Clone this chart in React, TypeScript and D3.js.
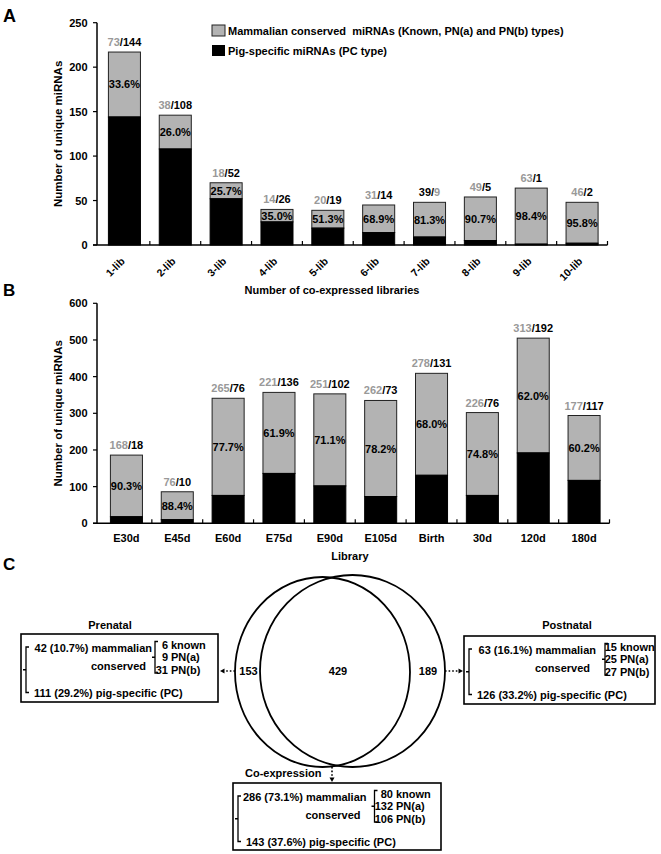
import * as d3 from "d3";

// ---- Panel A: number of co-expressed libraries ----
const libsA = ["1-lib", "2-lib", "3-lib", "4-lib", "5-lib", "6-lib", "7-lib", "8-lib", "9-lib", "10-lib"];
const conservedA = [73, 38, 18, 14, 20, 31, 39, 49, 63, 46];
const pigA = [144, 108, 52, 26, 19, 14, 9, 5, 1, 2];
const yTicksA = [0, 50, 100, 150, 200, 250];
// the original figure prints this label with its colours swapped
const swappedA = ["7-lib"];

// ---- Panel B: per library ----
const libsB = ["E30d", "E45d", "E60d", "E75d", "E90d", "E105d", "Birth", "30d", "120d", "180d"];
const conservedB = [168, 76, 265, 221, 251, 262, 278, 226, 313, 177];
const pigB = [18, 10, 76, 136, 102, 73, 131, 76, 192, 117];
const yTicksB = [0, 100, 200, 300, 400, 500, 600];

// ---- Panel C: Venn + summary boxes (Prenatal, Co-expression, Postnatal) ----
const vennCounts = [153, 429, 189];
const groupNames = ["Prenatal", "Co-expression", "Postnatal"];
const conservedC = [42, 286, 63];
const conservedPctC = ["10.7%", "73.1%", "16.1%"];
const pigC = [111, 143, 126];
const pigPctC = ["29.2%", "37.6%", "33.2%"];
const knownC = [6, 80, 15];
const pnaC = [9, 132, 25];
const pnbC = [31, 106, 27];

const FONT = "'Liberation Sans', Arial, Helvetica, sans-serif";
const BAR_GRAY = "#b3b3b3";
const TEXT_GRAY = "#999999";
const AXIS_X = 97;

type BarsProps = {
  cats: string[];
  conserved: number[];
  pig: number[];
  yTicks: number[];
  range: [number, number];
  yRange: [number, number];
  rotate: boolean;
  swapped?: string[];
};

const StackedBars = ({ cats, conserved, pig, yTicks, range, yRange, rotate, swapped = [] }: BarsProps) => {
  const x = d3.scaleBand<string>().domain(cats).range(range).paddingInner(0.37).paddingOuter(0.185);
  const y = d3.scaleLinear().domain([0, d3.max(yTicks) as number]).range(yRange);
  const step = x.step();
  const bw = x.bandwidth();
  const fmt = d3.format(".1f");
  const y0 = y(0);

  return (
    <g>
      {cats.map((c, i) => {
        const total = conserved[i] + pig[i];
        const bx = x(c) || 0;
        const cx = bx + bw / 2;
        const yTop = y(total);
        const yPig = y(pig[i]);
        const swap = swapped.includes(c);
        return (
          <g key={c}>
            <rect x={bx} y={yTop} width={bw} height={yPig - yTop} fill={BAR_GRAY} stroke="#222" strokeWidth={1} />
            <rect x={bx} y={yPig} width={bw} height={y0 - yPig} fill="#000" stroke="#000" strokeWidth={1} />
            <text x={cx} y={(yTop + yPig) / 2} textAnchor="middle" dominantBaseline="central" fontSize={11}>
              {fmt((conserved[i] / total) * 100)}%
            </text>
            <text x={cx} y={yTop - 6} textAnchor="middle" fontSize={11}>
              {swap ? (
                <>
                  <tspan fill="#000">{conserved[i]}/</tspan>
                  <tspan fill={TEXT_GRAY}>{pig[i]}</tspan>
                </>
              ) : (
                <>
                  <tspan fill={TEXT_GRAY}>{conserved[i]}</tspan>
                  <tspan fill="#000">/{pig[i]}</tspan>
                </>
              )}
            </text>
            {rotate ? (
              <text
                transform={`translate(${cx + 1},${y0 + 17}) rotate(-45)`}
                textAnchor="end"
                fontSize={10.5}
              >
                {c}
              </text>
            ) : (
              <text x={cx} y={y0 + 19} textAnchor="middle" fontSize={11}>
                {c}
              </text>
            )}
          </g>
        );
      })}

      {/* y axis */}
      <line x1={AXIS_X} x2={AXIS_X} y1={y0} y2={yRange[1]} stroke="#000" strokeWidth={1.5} />
      {yTicks.map((t) => (
        <g key={t}>
          <line x1={AXIS_X - 4} x2={AXIS_X} y1={y(t)} y2={y(t)} stroke="#000" strokeWidth={1.2} />
          <text x={87.5} y={y(t)} textAnchor="end" dominantBaseline="central" fontSize={11}>
            {t}
          </text>
        </g>
      ))}

      {/* x axis with small inward ticks between categories */}
      <line x1={AXIS_X - 4} x2={range[1]} y1={y0} y2={y0} stroke="#000" strokeWidth={1.5} />
      {d3.range(1, cats.length + 1).map((i) => (
        <line
          key={i}
          x1={range[0] + i * step}
          x2={range[0] + i * step}
          y1={y0}
          y2={y0 - 4}
          stroke="#000"
          strokeWidth={1.2}
        />
      ))}

      <text
        transform={`translate(58,${(yRange[0] + yRange[1]) / 2}) rotate(-90)`}
        textAnchor="middle"
        dominantBaseline="central"
        fontSize={11.5}
      >
        Number of unique miRNAs
      </text>
    </g>
  );
};

// curly-ish bracket: vertical stroke, ticks to the right at the ends, tick to the left in the middle
const Bracket = ({ x, y1, y2 }: { x: number; y1: number; y2: number }) => {
  const m = (y1 + y2) / 2;
  return (
    <path
      d={`M${x + 3},${y1} H${x} V${y2} H${x + 3} M${x},${m} H${x - 3}`}
      fill="none"
      stroke="#000"
      strokeWidth={1.3}
    />
  );
};

const boxLayout = [
  { x: 21, y: 634, w: 197, h: 68, tx: 110, ty: 625, anchor: "middle", mamEnd: 131, brX: 134, numRight: 147 },
  { x: 233, y: 783, w: 208, h: 67, tx: 245, ty: 773, anchor: "start", mamEnd: 133.5, brX: 141.5, numRight: 160 },
  { x: 464, y: 636, w: 191, h: 68, tx: 567, ty: 625, anchor: "middle", mamEnd: 132, brX: 141, numRight: 153 },
];

const InfoBox = ({ i }: { i: number }) => {
  const L = boxLayout[i];
  const subs: [number, string][] = [
    [knownC[i], "known"],
    [pnaC[i], "PN(a)"],
    [pnbC[i], "PN(b)"],
  ];
  const subY = [10.5, 23, 35.5];
  return (
    <g>
      <text x={L.tx} y={L.ty} textAnchor={L.anchor as any} dominantBaseline="central" fontSize={11}>
        {groupNames[i]}
      </text>
      <rect x={L.x} y={L.y} width={L.w} height={L.h} fill="#fff" stroke="#000" strokeWidth={1.6} />
      <g transform={`translate(${L.x},${L.y})`} fontSize={11}>
        <Bracket x={5} y1={13} y2={58.5} />
        <text x={L.mamEnd} y={13.5} textAnchor="end" dominantBaseline="central">
          {conservedC[i]} ({conservedPctC[i]}) mammalian
        </text>
        <text x={L.mamEnd - 6} y={32} textAnchor="end" dominantBaseline="central">
          conserved
        </text>
        <Bracket x={L.brX} y1={7.5} y2={39} />
        {subs.map(([n, label], k) => (
          <g key={label}>
            <text x={L.numRight} y={subY[k]} textAnchor="end" dominantBaseline="central">
              {n}
            </text>
            <text x={L.numRight + 3} y={subY[k]} dominantBaseline="central">
              {label}
            </text>
          </g>
        ))}
        <text x={13} y={58.5} dominantBaseline="central">
          {pigC[i]} ({pigPctC[i]}) pig-specific (PC)
        </text>
      </g>
    </g>
  );
};

const DottedArrow = ({ x1, y1, x2, y2 }: { x1: number; y1: number; x2: number; y2: number }) => {
  const a = Math.atan2(y2 - y1, x2 - x1);
  const len = 4.5;
  const wid = 2.5;
  const bx = x2 - len * Math.cos(a);
  const by = y2 - len * Math.sin(a);
  const px = -Math.sin(a) * wid;
  const py = Math.cos(a) * wid;
  return (
    <g>
      <line x1={x1} y1={y1} x2={bx} y2={by} stroke="#000" strokeWidth={1.6} strokeDasharray="1.6 2" />
      <polygon points={`${x2},${y2} ${bx + px},${by + py} ${bx - px},${by - py}`} fill="#000" />
    </g>
  );
};

const Venn = () => {
  const cy = 672;
  const labelX = [248.5, 338, 428];
  return (
    <g>
      <ellipse cx={322.5} cy={cy} rx={87.5} ry={95} fill="none" stroke="#000" strokeWidth={1.8} />
      <ellipse cx={352.5} cy={cy - 1} rx={92.5} ry={96} fill="none" stroke="#000" strokeWidth={1.8} />
      {vennCounts.map((v, i) => (
        <text key={i} x={labelX[i]} y={cy - 1} textAnchor="middle" dominantBaseline="central" fontSize={11}>
          {v}
        </text>
      ))}
      <DottedArrow x1={235} y1={cy - 1} x2={220} y2={cy - 1} />
      <DottedArrow x1={445} y1={cy - 1} x2={463} y2={cy - 1} />
      <DottedArrow x1={332} y1={767} x2={332} y2={782} />
    </g>
  );
};

export default function App() {
  return (
    <svg
      width={661}
      height={854}
      viewBox="0 0 661 854"
      style={{ position: "absolute", left: 0, top: 0, background: "#fff" }}
      fontFamily={FONT}
      fontWeight="bold"
    >
      <rect width={661} height={854} fill="#fff" />

      {/* Panel A */}
      <text x={3} y={22} fontSize={18}>A</text>
      <StackedBars
        cats={libsA}
        conserved={conservedA}
        pig={pigA}
        yTicks={yTicksA}
        range={[99, 607.5]}
        yRange={[245, 22.7]}
        rotate
        swapped={swappedA}
      />
      <rect x={212} y={25} width={13} height={11} fill={BAR_GRAY} stroke="#222" strokeWidth={1} />
      <rect x={212} y={45} width={13} height={11} fill="#000" />
      <text x={228} y={30.5} dominantBaseline="central" fontSize={11}>
        Mammalian conserved{"\u00a0 "}miRNAs (Known, PN(a) and PN(b) types)
      </text>
      <text x={228} y={50.5} dominantBaseline="central" fontSize={11}>
        Pig-specific miRNAs (PC type)
      </text>
      <text x={332} y={294} textAnchor="middle" fontSize={11}>
        Number of co-expressed libraries
      </text>

      {/* Panel B */}
      <text x={3} y={296} fontSize={17}>B</text>
      <StackedBars
        cats={libsB}
        conserved={conservedB}
        pig={pigB}
        yTicks={yTicksB}
        range={[101, 609.5]}
        yRange={[523.3, 303.3]}
        rotate={false}
      />
      <text x={350} y={560} textAnchor="middle" fontSize={11}>
        Library
      </text>

      {/* Panel C */}
      <text x={3} y={570} fontSize={17}>C</text>
      <Venn />
      {groupNames.map((_, i) => (
        <InfoBox key={i} i={i} />
      ))}
    </svg>
  );
}
